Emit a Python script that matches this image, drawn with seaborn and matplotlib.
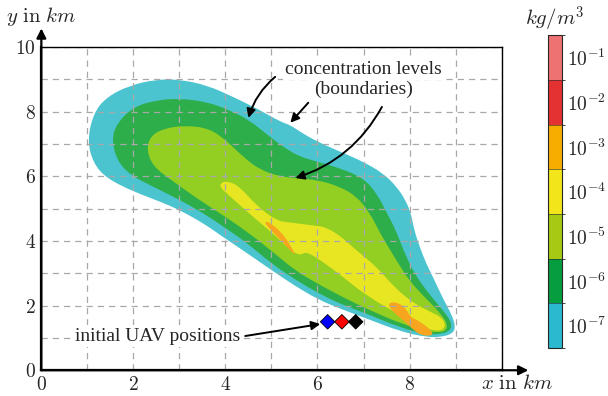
import matplotlib
matplotlib.use('Agg')
import matplotlib.pyplot as plt
from matplotlib.colors import ListedColormap, BoundaryNorm
from matplotlib.colorbar import ColorbarBase
from matplotlib.path import Path
from matplotlib.patches import PathPatch
import seaborn as sns
import pandas as pd

# concentration level boundaries (km)
cyan_x = [1.0, 1.13, 1.42, 1.93, 2.5, 3.0, 3.6, 4.17, 4.75, 5.18, 5.42, 5.62, 6.0, 6.5, 7.0, 7.43, 7.72, 7.91, 8.03, 8.1,
          8.22, 8.36, 8.54, 8.74, 8.92, 9.0, 8.94, 8.7, 8.38, 7.8, 7.07, 6.5, 6.0, 5.5, 5.0, 4.32, 3.88, 3.52, 3.0, 2.58,
          2.0, 1.42, 1.13]
cyan_y = [7.1, 7.95, 8.46, 8.82, 9.0, 9.0, 8.82, 8.46, 8.05, 7.7, 7.58, 7.38, 7.07, 6.76, 6.45, 6.09, 5.68, 5.27, 4.86, 4.34,
          3.82, 3.31, 2.79, 2.18, 1.71, 1.35, 1.14, 1.03, 1.02, 1.2, 1.6, 1.9, 2.2, 2.62, 3.1, 3.77, 4.19, 4.55, 4.96, 5.22,
          5.53, 5.94, 6.4]

dgreen_x = [1.53, 1.64, 2.0, 2.5, 3.0, 3.59, 4.09, 4.52, 4.96, 5.32, 5.6, 6.0, 6.5, 7.0, 7.29, 7.51, 7.7, 7.87, 8.1, 8.4,
            8.7, 8.88, 8.92, 8.85, 8.67, 8.38, 7.8, 7.07, 6.5, 6.0, 5.5, 5.0, 4.46, 3.96, 3.52, 3.01, 2.43, 1.93, 1.64]
dgreen_y = [7.15, 7.64, 8.15, 8.36, 8.41, 8.31, 8.05, 7.74, 7.23, 6.85, 6.62, 6.45, 6.25, 5.94, 5.47, 4.86, 4.34, 3.7, 3.0, 2.4,
            1.9, 1.56, 1.35, 1.2, 1.12, 1.1, 1.32, 1.75, 2.05, 2.4, 2.82, 3.3, 3.95, 4.44, 4.86, 5.27, 5.68, 6.04, 6.5]

lgreen_x = [2.29, 2.36, 2.65, 3.14, 3.65, 4.01, 4.38, 4.75, 5.18, 5.55, 6.0, 6.49, 6.86, 7.14, 7.36, 7.58, 7.8, 8.01, 8.3,
            8.55, 8.72, 8.81, 8.81, 8.67, 8.38, 7.8, 7.07, 6.5, 6.0, 5.5, 5.0, 4.46, 3.88, 3.38, 2.87, 2.43]
lgreen_y = [6.81, 7.23, 7.48, 7.58, 7.48, 7.12, 6.61, 6.2, 6.0, 5.94, 5.89, 5.68, 5.37, 4.86, 4.24, 3.72, 3.2, 2.75, 2.3,
            1.95, 1.66, 1.45, 1.25, 1.17, 1.2, 1.45, 1.9, 2.3, 2.68, 3.1, 3.7, 4.3, 4.86, 5.32, 5.84, 6.3]

yellow_x = [3.88, 4.03, 4.3, 4.67, 5.11, 5.4, 5.98, 6.2, 6.55, 6.85, 7.29, 7.65, 8.09, 8.45, 8.67, 8.78, 8.74, 8.55, 8.3,
            7.8, 7.07, 6.5, 6.12, 5.76, 5.62, 5.4, 5.11, 4.67, 4.02, 3.9]
yellow_y = [5.78, 5.86, 5.7, 5.1, 4.63, 4.57, 4.47, 4.42, 4.1, 3.7, 3.2, 2.59, 2.07, 1.81, 1.66, 1.45, 1.25, 1.22, 1.33,
            1.7, 2.3, 2.95, 3.35, 3.68, 3.55, 3.73, 4.14, 4.66, 5.48, 5.65]

orange1_x = [4.86, 4.95, 5.2, 5.4, 5.52, 5.48, 5.25, 5.05, 4.88]
orange1_y = [4.6, 4.58, 4.3, 3.9, 3.56, 3.6, 3.95, 4.25, 4.5]

orange2_x = [7.58, 7.8, 7.94, 8.01, 8.16, 8.38, 8.52, 8.45, 8.23, 8.09, 7.94, 7.72, 7.54]
orange2_y = [2.12, 2.07, 1.87, 1.66, 1.56, 1.35, 1.14, 1.06, 1.09, 1.25, 1.45, 1.71, 1.97]

# initial UAV positions
uav = pd.DataFrame({'x': [6.22, 6.53, 6.83], 'y': [1.5, 1.5, 1.5], 'uav': ['a', 'b', 'c']})
uav_colors = ['#0000ff', '#ff0000', '#000000']

# colorbar
bar_colors = ['#2ab9ce', '#069c40', '#a7c914', '#f2e51a', '#f7ad00', '#e43232', '#ee7272']
bar_labels = [r'$10^{-7}$', r'$10^{-6}$', r'$10^{-5}$', r'$10^{-4}$', r'$10^{-3}$', r'$10^{-2}$', r'$10^{-1}$']


def smooth_patch(xs, ys, color):
    # closed quadratic bezier through the midpoints, read points used as control points
    pts = list(zip(xs, ys))
    n = len(pts)
    mid = lambda a, b: ((a[0] + b[0]) / 2, (a[1] + b[1]) / 2)
    verts = [mid(pts[-1], pts[0])]
    codes = [Path.MOVETO]
    for i in range(n):
        verts += [pts[i], mid(pts[i], pts[(i + 1) % n])]
        codes += [Path.CURVE3, Path.CURVE3]
    return PathPatch(Path(verts, codes), facecolor=color, lw=0, zorder=1)


sns.set_style('white')
plt.rcParams['font.family'] = ['Liberation Serif', 'DejaVu Serif']
plt.rcParams['mathtext.fontset'] = 'cm'

fig = plt.figure(figsize=(6.08, 3.96), dpi=100)
ax = fig.add_axes([0.068, 0.065, 0.757, 0.816])

fills = [(cyan_x, cyan_y, '#4cc4cf'), (dgreen_x, dgreen_y, '#2ead4b'), (lgreen_x, lgreen_y, '#93cf23'),
         (yellow_x, yellow_y, '#e8e622'), (orange1_x, orange1_y, '#f7a51e'), (orange2_x, orange2_y, '#f7a51e')]
for xs, ys, c in fills:
    ax.add_patch(smooth_patch(xs, ys, c))

sns.scatterplot(data=uav, x='x', y='y', hue='uav', palette=uav_colors, marker='D', s=55,
                edgecolor='k', linewidth=0.6, legend=False, zorder=4, ax=ax)

ax.set_xlim(0, 10)
ax.set_ylim(0, 10)
ax.set_xticks(range(0, 11))
ax.set_yticks(range(0, 11))
ax.set_xticklabels(['$%d$' % v if v % 2 == 0 and v < 10 else '' for v in range(0, 11)])
ax.set_yticklabels(['$%d$' % v if v % 2 == 0 else '' for v in range(0, 11)])
ax.tick_params(length=0, labelsize=14, pad=4)
ax.grid(True, color='#a8a8a8', ls=(0, (5, 4)), lw=0.9)
ax.set_axisbelow(False)
ax.set_xlabel('')
ax.set_ylabel('')
for s in ['top', 'right']:
    ax.spines[s].set_linewidth(1.0)
for s in ['left', 'bottom']:
    ax.spines[s].set_linewidth(1.6)
for s in ax.spines.values():
    s.set_color('k')
    s.set_zorder(3)

arrow_kw = dict(arrowstyle='-|>', lw=1.6, color='k', mutation_scale=14, shrinkA=0, shrinkB=0)
ax.annotate('', xy=(1.058, 0), xytext=(0, 0), xycoords='axes fraction', arrowprops=arrow_kw, annotation_clip=False)
ax.annotate('', xy=(0, 1.058), xytext=(0, 0), xycoords='axes fraction', arrowprops=arrow_kw, annotation_clip=False)

fig.text(0.068, 0.958, r'$y\ \mathrm{in}\ km$', ha='center', va='center', fontsize=15)
fig.text(0.85, 0.03, r'$x\ \mathrm{in}\ km$', ha='center', va='center', fontsize=15)

box = dict(facecolor='white', edgecolor='none', pad=1.5)
ax.text(6.99, 9.3, 'concentration levels', ha='center', va='center', fontsize=14, bbox=box, zorder=5)
ax.text(6.99, 8.68, '(boundaries)', ha='center', va='center', fontsize=14, bbox=box, zorder=5)
ax.text(2.52, 1.06, 'initial UAV positions', ha='center', va='center', fontsize=14, bbox=box, zorder=5)

pointer = dict(arrowstyle='-|>', lw=1.4, color='k', mutation_scale=13, shrinkA=0, shrinkB=0)
ax.annotate('', xy=(4.5, 7.81), xytext=(5.08, 9.08), arrowprops=dict(pointer, connectionstyle='arc3,rad=0.15'), zorder=6)
ax.annotate('', xy=(5.41, 7.66), xytext=(5.8, 8.28), arrowprops=pointer, zorder=6)
ax.annotate('', xy=(5.52, 5.95), xytext=(7.4, 8.15), arrowprops=dict(pointer, connectionstyle='arc3,rad=-0.2'), zorder=6)
ax.annotate('', xy=(6.06, 1.43), xytext=(4.43, 1.06), arrowprops=pointer, zorder=6)

cax = fig.add_axes([0.901, 0.121, 0.023, 0.79])
ColorbarBase(cax, cmap=ListedColormap(bar_colors), norm=BoundaryNorm(range(8), 7),
             ticks=[i + 0.5 for i in range(7)], drawedges=True)
cax.set_yticklabels(bar_labels)
cax.tick_params(length=0, labelsize=14, pad=4)
cax.set_title(r'$kg/m^3$', fontsize=15, pad=7)

plt.savefig('out.png', dpi=100)
plt.close()
